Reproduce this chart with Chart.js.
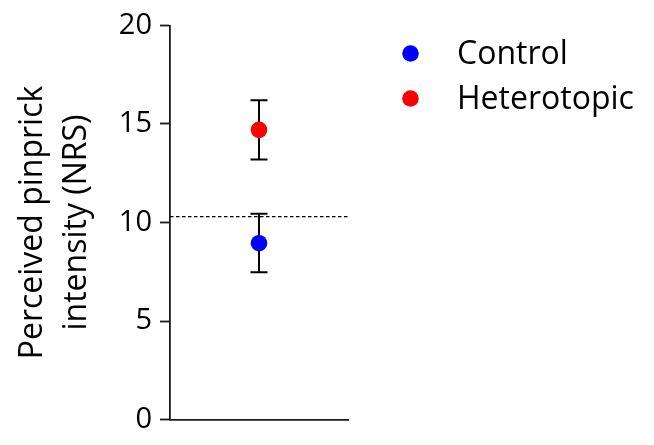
<!DOCTYPE html>
<html>
<head>
<meta charset="utf-8">
<script src="https://cdn.jsdelivr.net/npm/chart.js@4.4.1/dist/chart.umd.min.js"></script>
<style>
  html, body { margin: 0; padding: 0; background: #fff; }
  #wrap { width: 654px; height: 445px; }
</style>
</head>
<body>
<div id="wrap"><canvas id="pinprickChart"></canvas></div>
<script>
// group data
var groups = ["Control", "Heterotopic"];
var groupColors = ["#0000ff", "#ff0000"];
var means = [8.95, 14.7];
var lowerErr = [7.47, 13.2];
var upperErr = [10.45, 16.2];
var baseline = 10.3;
var yTicks = [0, 5, 10, 15, 20];

var fontName = "'Open Sans', sans-serif";

// error bars drawn behind the points
var errorBars = {
  id: 'errorBars',
  beforeDatasetsDraw: function(chart) {
    var ctx = chart.ctx;
    var xs = chart.scales.x;
    var ys = chart.scales.y;
    ctx.save();
    ctx.strokeStyle = '#000';
    ctx.lineWidth = 2;
    for (var i = 0; i < groups.length; i++) {
      var px = xs.getPixelForValue(1);
      var top = ys.getPixelForValue(upperErr[i]);
      var bot = ys.getPixelForValue(lowerErr[i]);
      ctx.beginPath();
      ctx.moveTo(px, top);
      ctx.lineTo(px, bot);
      ctx.moveTo(px - 8.5, top);
      ctx.lineTo(px + 8.5, top);
      ctx.moveTo(px - 8.5, bot);
      ctx.lineTo(px + 8.5, bot);
      ctx.stroke();
    }
    ctx.restore();
  }
};

// simple legend on the right side
var sideLegend = {
  id: 'sideLegend',
  afterDraw: function(chart) {
    var ctx = chart.ctx;
    ctx.save();
    ctx.font = "32px " + fontName;
    ctx.textBaseline = 'middle';
    ctx.textAlign = 'left';
    for (var i = 0; i < groups.length; i++) {
      var ds = chart.data.datasets[i];
      var y = 53.5 + i * 45;
      ctx.fillStyle = ds.backgroundColor;
      ctx.beginPath();
      ctx.arc(410.5, y, 8.3, 0, Math.PI * 2);
      ctx.fill();
      ctx.fillStyle = '#000';
      ctx.fillText(ds.label, 457, y + 1);
    }
    ctx.restore();
  }
};

var datasets = [];
for (var i = 0; i < groups.length; i++) {
  datasets.push({
    type: 'scatter',
    label: groups[i],
    data: [{ x: 1, y: means[i] }],
    backgroundColor: groupColors[i],
    borderColor: groupColors[i],
    pointRadius: 8.3,
    pointHoverRadius: 8.3,
    borderWidth: 0
  });
}
datasets.push({
  type: 'line',
  label: 'baseline',
  data: [{ x: 0, y: baseline }, { x: 2, y: baseline }],
  borderColor: '#000',
  borderWidth: 1.4,
  borderDash: [3.5, 2.5],
  pointRadius: 0,
  fill: false
});

var ctx = document.getElementById("pinprickChart");
var chart = new Chart(ctx, {
  type: 'scatter',
  data: { datasets: datasets },
  options: {
    responsive: true,
    maintainAspectRatio: false,
    animation: false,
    layout: { padding: { left: 0, top: 22.5, right: 306, bottom: 24.3 } },
    plugins: {
      legend: { display: false },
      tooltip: { enabled: false }
    },
    scales: {
      x: {
        type: 'linear',
        min: 0,
        max: 2,
        afterFit: function(scale) { scale.height = 0; },
        ticks: { display: false },
        grid: { display: false },
        border: { display: true, color: '#1a1a1a', width: 1.8 }
      },
      y: {
        type: 'linear',
        min: 0,
        max: 20,
        afterFit: function(scale) { scale.width = 170; },
        afterBuildTicks: function(scale) {
          scale.ticks = yTicks.map(function(v) { return { value: v }; });
        },
        ticks: {
          color: '#000',
          padding: 8,
          font: { family: fontName, size: 29 }
        },
        grid: {
          drawOnChartArea: false,
          drawTicks: true,
          tickLength: 10,
          tickWidth: 1.8,
          color: '#1a1a1a'
        },
        border: { display: true, color: '#1a1a1a', width: 1.8 },
        title: {
          display: true,
          text: ['Perceived pinprick', 'intensity (NRS)'],
          color: '#000',
          font: { family: fontName, size: 32, lineHeight: 1.4 },
          padding: { top: 10, bottom: 0 }
        }
      }
    }
  },
  plugins: [errorBars, sideLegend]
});
</script>
</body>
</html>
